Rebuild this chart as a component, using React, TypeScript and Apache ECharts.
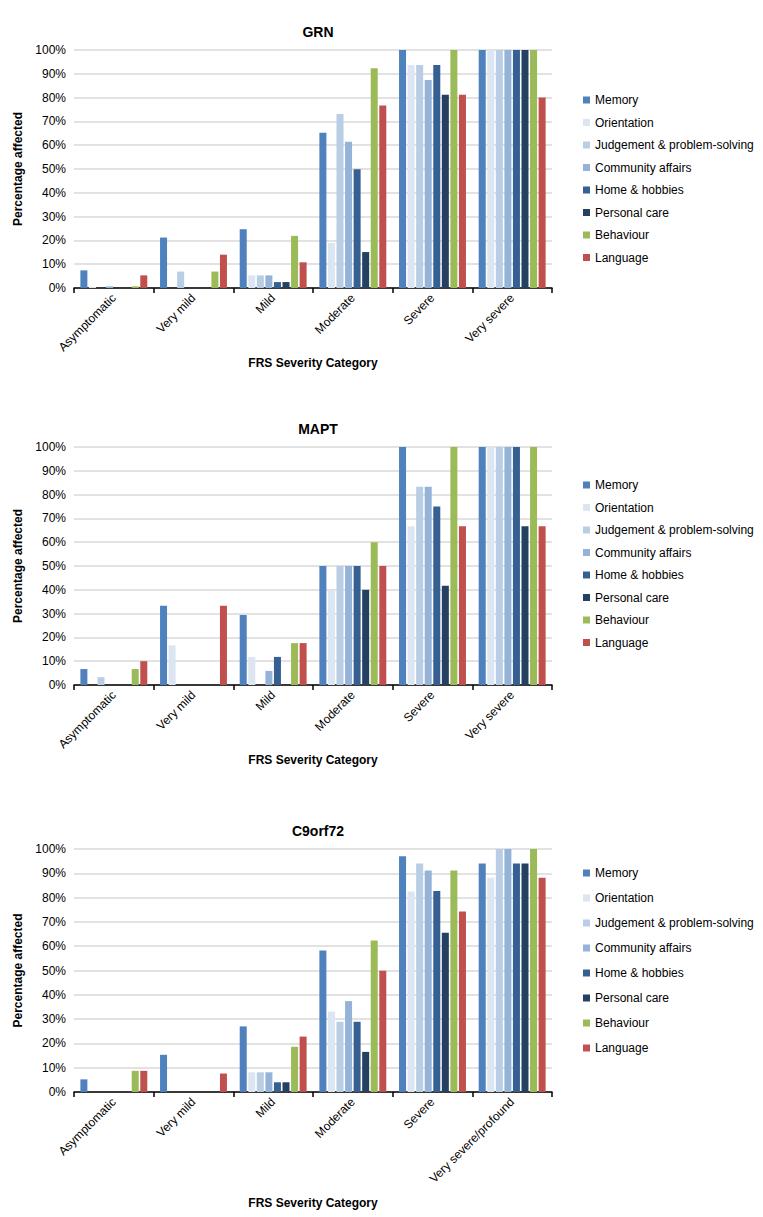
import React, { useEffect, useRef } from "react";
import * as echarts from "echarts";

const seriesNames = ["Memory", "Orientation", "Judgement & problem-solving", "Community affairs", "Home & hobbies", "Personal care", "Behaviour", "Language"];
const colors = ["#4F81BD", "#DCE6F2", "#B9CDE5", "#95B3D7", "#376092", "#254061", "#9BBB59", "#C0504D"];
const titles = ["GRN", "MAPT", "C9orf72"];
const cats1 = ["Asymptomatic", "Very mild", "Mild", "Moderate", "Severe", "Very severe"];
const cats3 = ["Asymptomatic", "Very mild", "Mild", "Moderate", "Severe", "Very severe/profound"];
// values per series (rows) across categories
const grn = [
  [7.4, 21.2, 24.7, 65.2, 100, 100],
  [0.5, 0, 5.3, 18.9, 93.7, 100],
  [0, 6.9, 5.3, 73.1, 93.7, 100],
  [0.7, 0, 5.3, 61.4, 87.4, 100],
  [0, 0, 2.5, 49.9, 93.7, 100],
  [0, 0, 2.5, 15.1, 81.2, 100],
  [0.7, 6.9, 21.9, 92.3, 100, 100],
  [5.3, 14.0, 10.8, 76.7, 81.2, 80],
];
const mapt = [
  [6.7, 33.3, 29.4, 50, 100, 100],
  [0, 16.7, 11.8, 40, 66.7, 100],
  [3.3, 0, 0, 50, 83.3, 100],
  [0, 0, 5.9, 50, 83.3, 100],
  [0, 0, 11.8, 50, 75, 100],
  [0, 0, 0, 40, 41.7, 66.7],
  [6.7, 0, 17.6, 60, 100, 100],
  [10, 33.3, 17.6, 50, 66.7, 66.7],
];
const c9 = [
  [5.2, 15.3, 27, 58.2, 97, 94],
  [0, 0, 8.1, 33.1, 82.5, 88.2],
  [0, 0, 8.1, 28.9, 94, 100],
  [0, 0, 8.1, 37.4, 91.2, 100],
  [0, 0, 4, 28.9, 82.7, 94],
  [0, 0, 4, 16.5, 65.5, 94],
  [8.7, 0, 18.6, 62.3, 91.2, 100],
  [8.7, 7.6, 22.8, 49.9, 74.3, 88.2],
];
const yTicks = [0, 10, 20, 30, 40, 50, 60, 70, 80, 90, 100];

const datasets = [grn, mapt, c9];
const catsList = [cats1, cats1, cats3];
const grids = [
  { top: 50, bottom: 288 },
  { top: 447, bottom: 685 },
  { top: 849, bottom: 1092 },
];
const legendTops = [89, 474, 862];
const legendGaps = [9, 9, 11.5];
const xNameGap = [60, 60, 105];
const font = "Liberation Sans, Arial, sans-serif";

export default function App() {
  const ref = useRef<HTMLDivElement>(null);
  useEffect(() => {
    const chart = echarts.init(ref.current!, null, { renderer: "svg" });
    const option: any = {
      animation: false,
      textStyle: { fontFamily: font },
      title: titles.map((t, i) => ({
        text: t,
        left: 313,
        textAlign: "center",
        top: grids[i].top - 30,
        textStyle: { fontSize: 14, fontWeight: "bold", color: "#000", fontFamily: font },
      })),
      legend: titles.map((_, i) => ({
        orient: "vertical",
        left: 578,
        top: legendTops[i],
        itemWidth: 7,
        itemHeight: 7,
        itemGap: legendGaps[i] + (i === 2 ? 1.5 : 1.5),
        icon: "rect",
        data: seriesNames.map((n) => n + "\u200b".repeat(i)),
        textStyle: { fontSize: 12, color: "#000", fontFamily: font },
        formatter: (n: string) => n.replace(/\u200b/g, ""),
        selectedMode: false,
      })),
      grid: grids.map((g) => ({ left: 74, width: 478, top: g.top, height: g.bottom - g.top })),
      xAxis: catsList.map((c, i) => ({
        type: "category",
        gridIndex: i,
        data: c,
        name: "FRS Severity Category",
        nameLocation: "middle",
        nameGap: xNameGap[i],
        nameTextStyle: { fontSize: 12, fontWeight: "bold", color: "#000" },
        axisLine: { lineStyle: { color: "#000", width: 1.5 } },
        axisTick: { show: true, length: 5, lineStyle: { color: "#000", width: 1.5 } },
        axisLabel: { rotate: 45, fontSize: 12, color: "#000", interval: 0, margin: 8 },
      })),
      yAxis: titles.map((_, i) => ({
        type: "value",
        gridIndex: i,
        min: 0,
        max: 100,
        interval: 10,
        name: "Percentage affected",
        nameLocation: "middle",
        nameGap: 50,
        nameTextStyle: { fontSize: 12, fontWeight: "bold", color: "#000" },
        axisLine: { show: false },
        axisTick: { show: false },
        splitLine: { lineStyle: { color: "#d9d9d9", width: 1.5 } },
        axisLabel: { formatter: (v: number) => (yTicks.includes(v) ? v + "%" : ""), fontSize: 12, color: "#000" },
      })),
      series: datasets.flatMap((d, gi) =>
        d.map((vals, si) => ({
          type: "bar",
          name: seriesNames[si] + "\u200b".repeat(gi),
          xAxisIndex: gi,
          yAxisIndex: gi,
          data: vals,
          barGap: "22%",
          barCategoryGap: "16%",
          itemStyle: { color: colors[si], borderWidth: 0 },
        }))
      ),
    };
    chart.setOption(option);
    return () => chart.dispose();
  }, []);
  return <div ref={ref} style={{ position: "absolute", left: 0, top: 0, width: 763, height: 1217 }} />;
}
